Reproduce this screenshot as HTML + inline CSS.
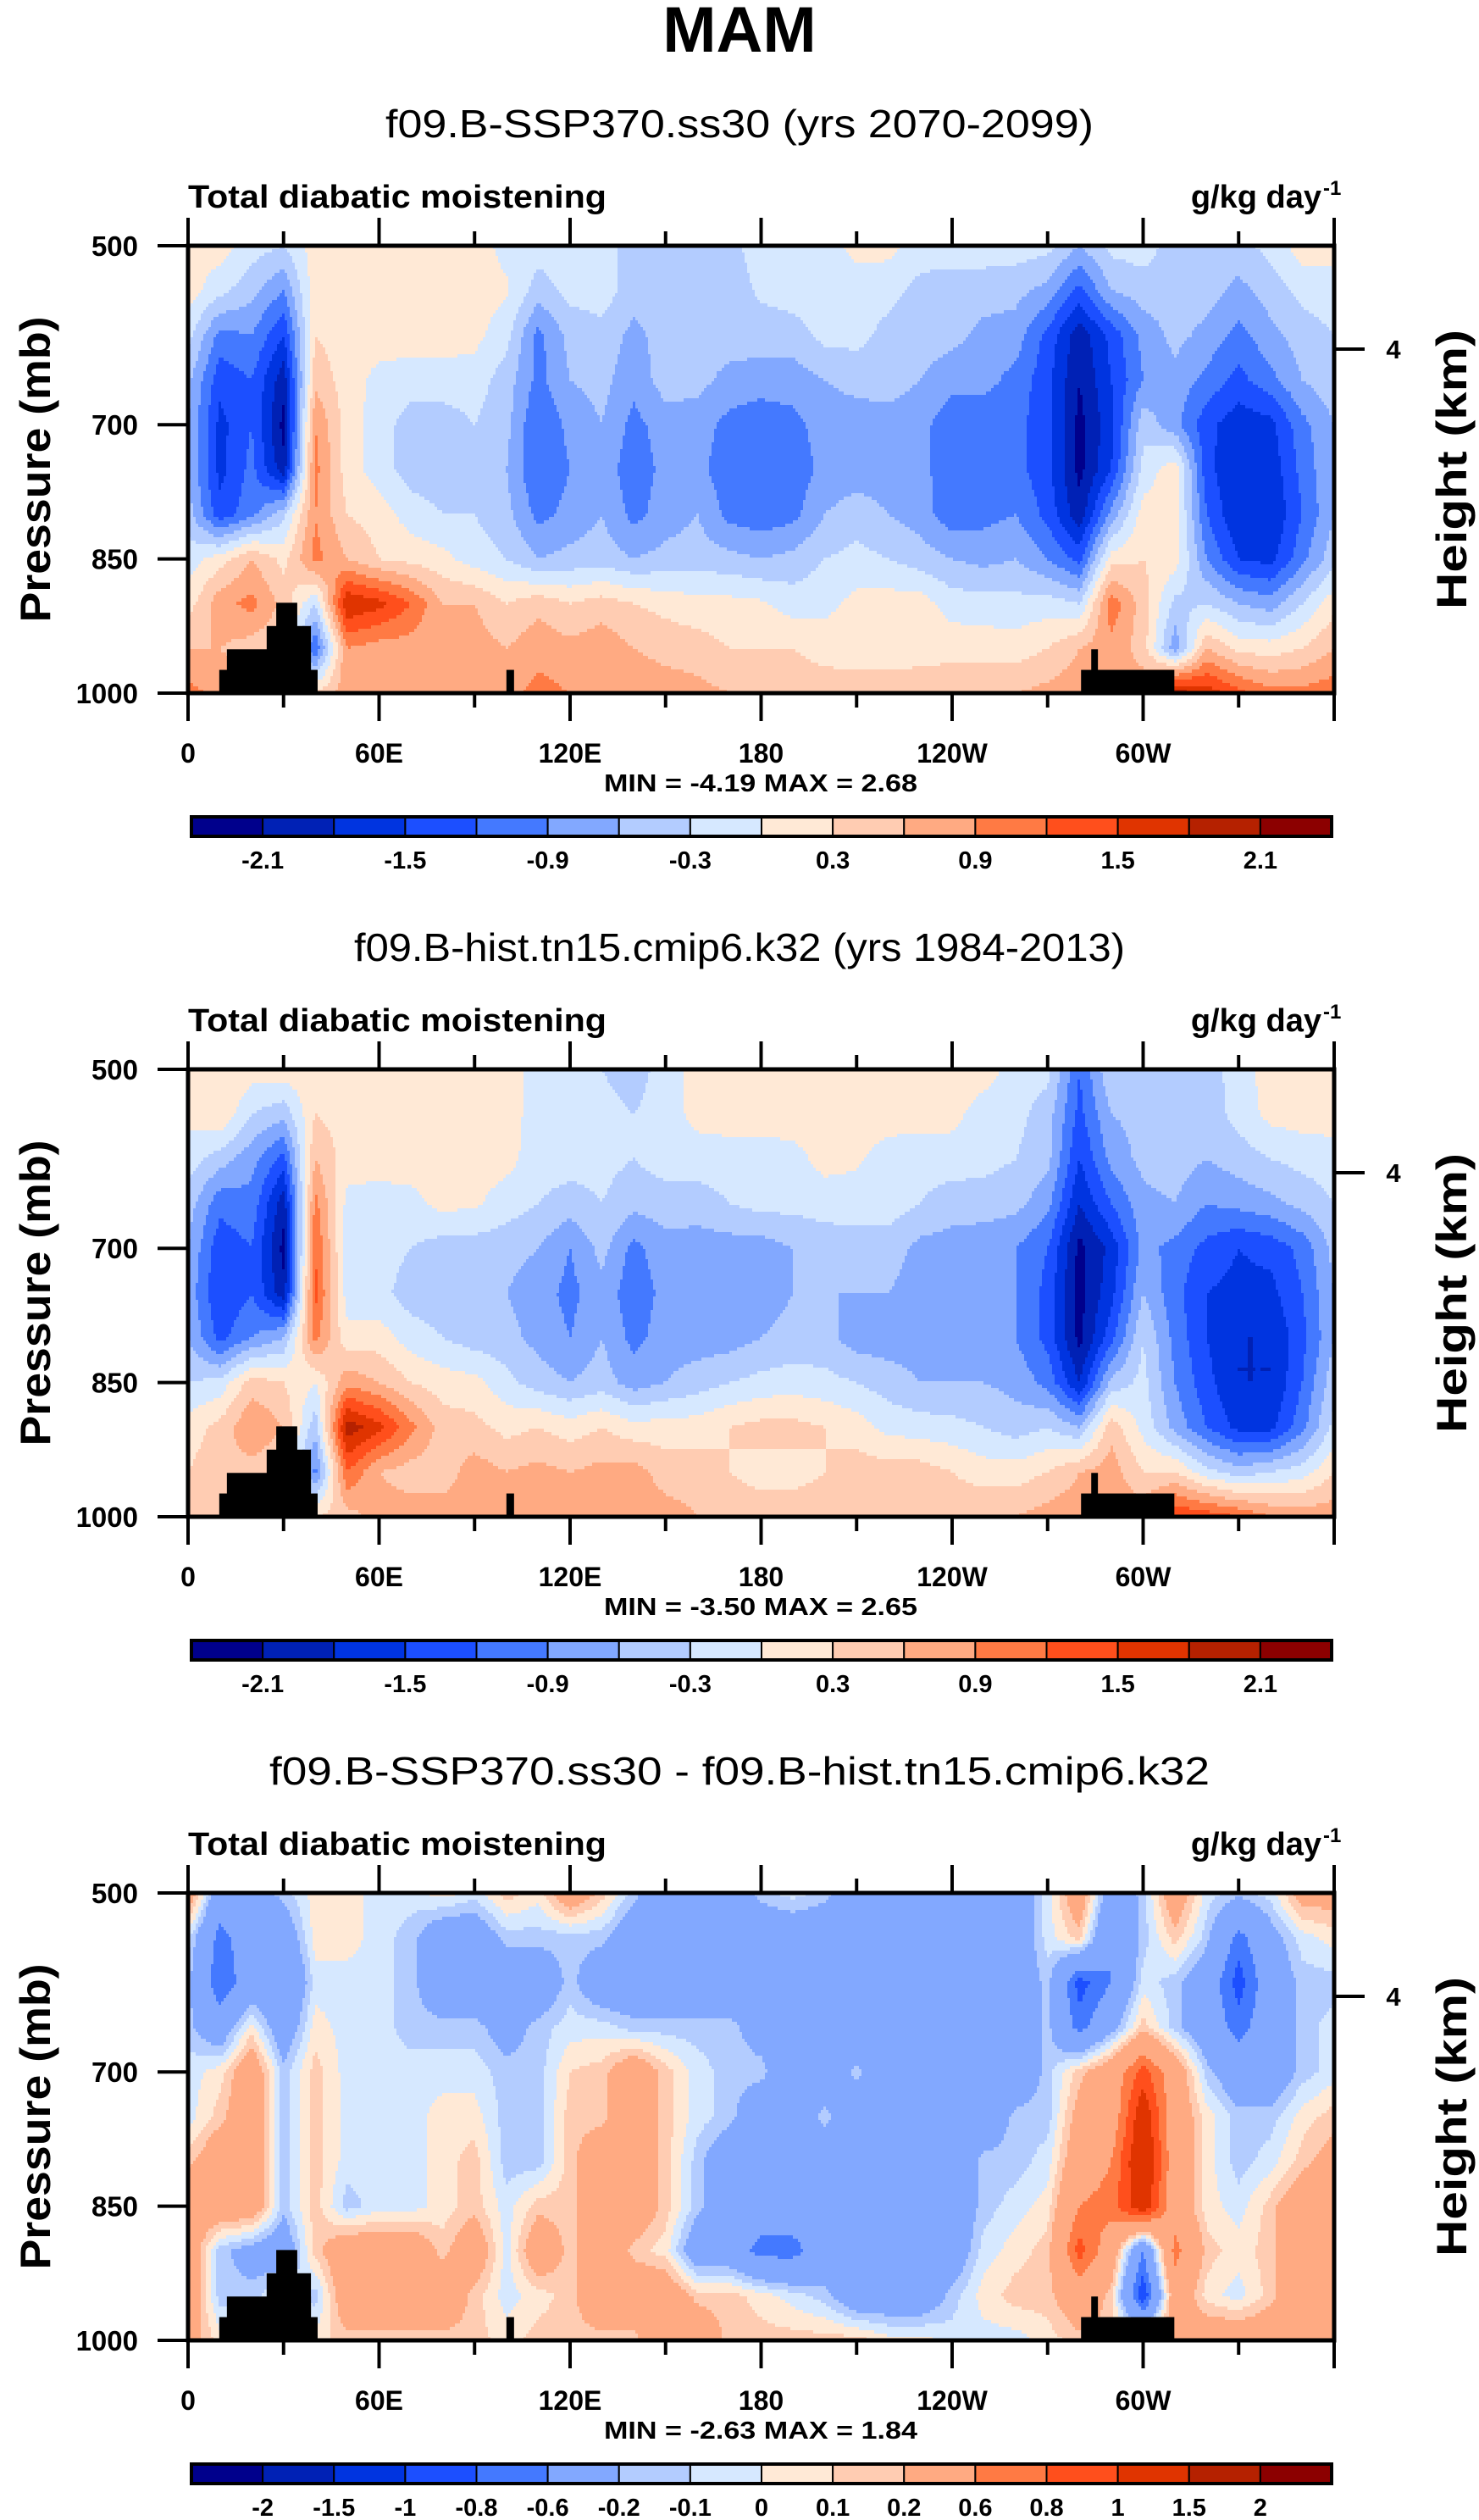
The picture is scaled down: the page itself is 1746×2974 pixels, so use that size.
<!DOCTYPE html>
<html><head><meta charset="utf-8">
<style>
html,body{margin:0;padding:0;background:#fff;}
svg{display:block;}
text{font-family:"Liberation Sans",Arial,sans-serif;fill:#000;}
.b{font-weight:bold;}
</style></head>
<body>
<svg id="chart" xmlns="http://www.w3.org/2000/svg" width="1746" height="2974" viewBox="0 0 1746 2974">
<rect x="0" y="0" width="1746" height="2974" fill="#fff"/>
<text class="b" x="873" y="61" font-size="76" text-anchor="middle">MAM</text>
<g id="panels"></g>
</svg>
<script>
// ---- data ----
const lons = [0,10,20,30,40,50,60,70,80,90,100,110,120,130,140,150,160,170,180,190,200,210,220,230,240,250,260,270,280,290,300,310,320,330,340,350,360];
const pLevels = [500,550,600,650,700,750,800,850,900,950,1000];

const sspRows = [
[.15,.15,-.15,-.3,.15,.15,.15,.15,.15,.15,-.1,-.15,-.15,-.15,-.45,-.45,-.45,-.4,-.15,-.15,-.15,.1,.1,-.15,-.15,-.15,-.15,-.2,-.6,-.2,-.15,-.45,-.45,-.4,-.2,.15,.15],
[.15,-.2,-.5,-.9,.2,.15,.15,.15,.15,.15,.05,-.45,-.2,-.15,-.45,-.45,-.45,-.45,-.25,-.15,-.15,-.15,-.2,-.4,-.45,-.45,-.5,-.7,-1.3,-.6,-.45,-.45,-.45,-.7,-.45,-.2,-.15],
[-.2,-1.0,-.9,-1.5,.3,.15,.15,.15,.15,.1,-.2,-1.0,-.5,-.4,-.7,-.45,-.45,-.45,-.45,-.45,-.2,-.2,-.4,-.45,-.5,-.7,-.75,-1.3,-2.0,-1.4,-.8,-.5,-.7,-1.0,-.7,-.45,-.3],
[-.5,-1.4,-1.2,-2.0,.5,.15,-.1,-.15,-.15,-.15,-.45,-1.0,-.6,-.5,-.8,-.45,-.5,-.7,-.75,-.75,-.6,-.5,-.45,-.6,-.8,-.8,-1.0,-1.4,-2.1,-1.5,-.9,-.7,-1.0,-1.3,-1.0,-.6,-.4],
[-.6,-1.6,-1.2,-2.2,.9,.15,-.15,-.45,-.45,-.3,-.5,-1.2,-.8,-.6,-1.0,-.75,-.75,-1.0,-1.1,-1.0,-.75,-.75,-.75,-.8,-1.1,-1.1,-1.1,-1.4,-2.2,-1.6,-.4,-.8,-1.4,-1.7,-1.6,-1.0,-.6],
[-.6,-1.6,-1.1,-2.0,1.0,.15,-.15,-.45,-.45,-.45,-.6,-1.2,-.9,-.7,-1.1,-.8,-.8,-1.1,-1.1,-1.1,-.8,-.75,-.75,-.8,-1.1,-1.1,-1.1,-1.4,-2.2,-1.5,-.2,.2,-1.4,-1.8,-1.7,-1.1,-.6],
[-.45,-1.4,-1.0,-.4,.9,.3,.15,-.15,-.3,-.3,-.5,-1.0,-.8,-.6,-1.0,-.75,-.6,-1.0,-1.1,-1.0,-.6,-.45,-.6,-.75,-1.1,-1.0,-.9,-1.3,-2.0,-.8,.15,.15,-1.2,-1.8,-1.8,-1.2,-.6],
[-.15,.15,.6,.2,1.0,.6,.3,.2,.1,-.15,-.3,-.6,-.5,-.45,-.6,-.5,-.45,-.5,-.6,-.5,-.3,-.2,-.3,-.45,-.6,-.7,-.6,-.9,-1.3,.15,.3,.15,-.9,-1.5,-1.6,-1.0,-.4],
[.15,.8,1.0,.5,-.3,1.8,1.6,1.2,.6,.6,.3,.5,.3,.45,.3,.2,.1,.1,.05,-.15,-.1,.1,.15,.15,-.15,-.15,-.2,-.15,-.3,1.1,.45,-.4,-.3,-.6,-.75,-.3,.2],
[.6,.6,.45,.3,-1.2,.9,.75,.75,.6,.75,.6,.8,.7,.8,.6,.5,.45,.3,.3,.3,.2,.15,.15,.2,.2,.15,.15,.3,.6,.8,.45,-.8,.6,.2,.15,.3,.6],
[1.0,.8,.7,.7,.3,.8,.8,.75,.75,.75,.8,1.0,.9,.8,.8,.75,.7,.6,.45,.45,.45,.45,.45,.45,.5,.6,.6,.7,.8,.8,.8,2.0,1.7,1.3,1.0,1.0,1.1]
];

const histRows = [
[.15,.3,.15,.2,.15,.15,.15,.15,.15,.15,.15,-.15,-.2,-.3,-.45,-.15,.1,.15,.15,.15,.15,.15,.15,.15,.15,.15,-.15,-.2,-1.2,-.3,-.4,-.3,-.45,-.15,.15,.15,.15],
[.1,.3,-.3,-.5,.3,.15,.15,.2,.3,.15,.15,-.15,-.15,-.2,-.3,-.15,.1,.15,.15,.15,.15,.15,.15,.15,.1,-.15,-.2,-.45,-1.3,-.6,-.5,-.3,-.45,-.2,.1,.15,.15],
[-.15,-.45,-.8,-1.3,.6,.15,.15,.15,.15,.15,.1,-.15,-.15,-.2,-.3,-.15,-.15,-.15,-.15,-.1,.1,.05,-.15,-.2,-.15,-.2,-.3,-.5,-1.5,-.8,-.5,-.45,-.6,-.45,-.3,-.2,-.15],
[-.45,-1.1,-1.0,-2.0,1.0,-.1,-.15,-.1,.1,.05,-.15,-.3,-.45,-.3,-.5,-.45,-.45,-.3,-.2,-.2,-.15,-.15,-.15,-.3,-.45,-.45,-.5,-.8,-1.8,-1.2,-.7,-.6,-.9,-.8,-.7,-.5,-.3],
[-.6,-1.4,-1.2,-2.2,1.2,-.15,-.15,-.3,-.45,-.45,-.5,-.6,-.9,-.5,-1.0,-.7,-.75,-.75,-.75,-.6,-.5,-.45,-.45,-.7,-.75,-.8,-.9,-1.2,-2.2,-1.7,-.8,-1.0,-1.3,-1.5,-1.4,-1.1,-.5],
[-.7,-1.5,-1.2,-2.0,1.3,-.15,-.2,-.45,-.45,-.5,-.6,-.75,-1.0,-.7,-1.1,-.8,-.9,-.9,-.75,-.6,-.6,-.6,-.6,-.75,-.75,-.8,-.9,-1.3,-2.2,-1.6,-.6,-1.1,-1.5,-1.6,-1.6,-1.2,-.6],
[-.6,-1.3,-.9,-.6,1.0,.1,.15,-.15,-.3,-.45,-.5,-.7,-.9,-.6,-1.0,-.75,-.75,-.75,-.6,-.5,-.5,-.75,-.75,-.75,-.75,-.75,-.9,-1.3,-2.2,-1.3,-.3,-1.0,-1.5,-1.8,-1.8,-1.3,-.6],
[-.3,-.2,.45,.3,0,.8,.6,.3,.15,.1,-.2,-.45,-.6,-.45,-.75,-.6,-.45,-.3,-.2,-.15,-.2,-.3,-.45,-.6,-.6,-.6,-.7,-1.0,-1.8,-.5,-.2,-.9,-1.4,-1.8,-1.8,-1.2,-.4],
[.15,.4,.9,.6,-.5,2.0,1.6,1.0,.45,.4,.2,.3,.15,.3,.1,.15,.15,.3,.4,.4,.3,.15,-.1,-.15,-.2,-.3,-.45,-.3,-.6,.5,-.1,-.7,-1.2,-1.6,-1.6,-1.0,-.2],
[.3,.5,.45,.3,-1.0,1.2,.6,.45,.45,.75,.6,.7,.6,.7,.75,.45,.45,.3,.2,.2,.3,.45,.45,.45,.3,.15,.15,.3,.6,.75,.3,.3,-.2,-.45,-.3,-.15,.3],
[.6,.6,.6,.6,.3,.45,.75,.75,.75,.75,.8,.9,.9,.8,.8,.75,.6,.45,.45,.45,.45,.45,.45,.45,.5,.6,.6,.75,.8,.8,.8,1.5,1.4,1.2,.9,.8,.8]
];

const diffRows = [
[.4,-.4,-.3,-.15,.05,.05,-.05,-.05,.05,-.05,.15,.05,.4,.15,-.15,-.4,-.4,-.4,-.15,-.05,-.15,-.4,-.4,-.4,-.4,-.4,-.4,-.05,.4,-.4,-.15,.4,-.05,-.15,-.05,.3,.3],
[-.05,-.7,-.4,-.4,.05,.05,-.05,-.15,-.4,-.4,-.15,-.15,-.15,-.15,-.4,-.4,-.4,-.4,-.4,-.4,-.4,-.4,-.4,-.4,-.4,-.4,-.4,-.05,.15,-.6,-.15,.15,-.15,-.7,-.3,-.05,.05],
[-.15,-.8,-.4,-.6,-.05,-.05,-.05,-.15,-.4,-.4,-.4,-.4,-.15,-.4,-.4,-.4,-.4,-.4,-.4,-.4,-.4,-.4,-.4,-.4,-.4,-.4,-.4,-.15,-.9,-.6,-.05,-.15,-.4,-.9,-.4,-.15,-.15],
[-.15,-.4,.05,-.4,.05,-.05,-.05,-.15,-.15,-.15,-.3,-.15,-.05,-.05,-.15,-.15,-.15,-.15,-.3,-.4,-.4,-.4,-.4,-.4,-.4,-.4,-.4,-.15,-.7,-.3,.15,-.15,-.4,-.7,-.4,-.15,-.05],
[-.05,.05,.4,-.15,.15,-.05,-.05,-.05,-.05,-.05,-.15,-.15,.1,.15,.4,.15,-.05,-.15,-.15,-.4,-.4,-.15,-.4,-.4,-.4,-.4,-.4,-.15,.15,.4,.9,.4,-.15,-.4,-.4,-.15,-.05],
[-.05,.15,.4,-.15,.15,-.05,-.05,-.05,.05,.05,-.15,-.15,.15,.15,.4,.15,-.05,-.15,-.4,-.4,-.15,-.4,-.4,-.4,-.4,-.4,-.15,-.15,.3,.4,1.2,.4,.05,-.15,-.15,.05,.15],
[.15,.4,.4,-.15,.15,-.05,-.05,-.05,.05,.15,-.15,-.15,.15,.4,.4,.15,-.15,-.4,-.4,-.4,-.4,-.4,-.4,-.4,-.4,-.15,-.15,-.05,.4,.6,1.3,.4,.05,-.15,-.05,.15,.3],
[.4,.4,.4,-.15,.15,-.15,-.05,-.05,.05,.15,-.05,.15,.15,.4,.4,.15,-.15,-.4,-.4,-.4,-.4,-.4,-.4,-.4,-.4,-.15,-.05,.05,.6,.7,1.2,.4,.05,-.05,.15,.4,.4],
[.4,-.15,-.3,-.4,.15,.4,.4,.4,.15,.4,-.05,.4,.15,.4,.15,.05,-.4,-.4,-.7,-.7,-.4,-.4,-.4,-.4,-.4,-.05,.05,.15,.9,.4,-.6,.7,.15,.05,.15,.4,.4],
[.4,-.15,-.15,.05,-.15,.4,.4,.4,.4,.15,-.05,.05,.15,.4,.4,.4,.15,.15,.05,-.05,-.15,-.4,-.4,-.4,-.15,.05,.15,.15,.4,.15,-1.0,.4,.05,-.05,.15,.4,.4],
[.3,.05,.05,.05,.05,.15,.15,.15,.15,.15,.05,.15,.15,.15,.15,.4,.4,.15,.15,.15,.15,.15,.05,.05,-.05,-.05,-.05,.05,.15,.15,.15,.4,.4,.4,.4,.4,.4]
];

const levelsAbs = [-2.1,-1.8,-1.5,-1.2,-0.9,-0.6,-0.3,0,0.3,0.6,0.9,1.2,1.5,1.8,2.1];
const levelsDiff = [-2,-1.5,-1,-0.8,-0.6,-0.2,-0.1,0,0.1,0.2,0.6,0.8,1,1.5,2];
const absLabels = ["-2.1","-1.5","-0.9","-0.3","0.3","0.9","1.5","2.1"];
const absLabelIdx = [0,2,4,6,8,10,12,14];
const diffLabels = ["-2","-1.5","-1","-0.8","-0.6","-0.2","-0.1","0","0.1","0.2","0.6","0.8","1","1.5","2"];
const diffLabelIdx = [0,1,2,3,4,5,6,7,8,9,10,11,12,13,14];
const palette = ["#00008C","#0021B5","#0034E0","#1C4FFF","#4479FF","#82A8FF","#B3CCFF","#D6E8FF","#FFE9D6","#FFCCB2","#FFAA82","#FF7A44","#FF4F1C","#E03400","#B52100","#8C0000"];

const topoLon0 = [9.8,12.2,24.7,27.7,100,280.5,283.7];
const topoLon1 = [40.7,38.6,38.6,34.3,102.4,309.8,285.8];
const topoP = [974,951,925,899,974,974,951];

const pTicks = [500,700,850,1000];
const lonTicks = [0,30,60,90,120,150,180,210,240,270,300,330,360];
const lonLabels = ["0","","60E","","120E","","180","","120W","","60W","",""];

const titles = ["f09.B-SSP370.ss30 (yrs 2070-2099)","f09.B-hist.tn15.cmip6.k32 (yrs 1984-2013)","f09.B-SSP370.ss30 - f09.B-hist.tn15.cmip6.k32"];
const titleWidths = [836,910,1110];
const minMax = ["MIN =  -4.19  MAX =   2.68","MIN =  -3.50  MAX =   2.65","MIN =  -2.63  MAX =   1.84"];
const panelNames = ["ssp370","historical","difference"];

// ---- layout ----
const NS = "http://www.w3.org/2000/svg";
const PL = 222, PR = 1575, PW = PR - PL, PH = 528, DY = 972, TOP0 = 290;
function mk(tag, attrs, parent){ const e = document.createElementNS(NS, tag); for (const k in attrs) e.setAttribute(k, attrs[k]); parent.appendChild(e); return e; }
function xOf(lon){ return PL + lon / 360 * PW; }
function yOf(p, top){ return top + (p - 500) / 500 * PH; }
function sample(rows, lon, p){
  let fi = lon / 10; let i = Math.min(Math.floor(fi), lons.length - 2); let fx = fi - i;
  let fj = (p - 500) / 50; let j = Math.min(Math.floor(fj), pLevels.length - 2); let fy = fj - j;
  const a = rows[j][i], b = rows[j][i+1], c = rows[j+1][i], d = rows[j+1][i+1];
  return (a*(1-fx)+b*fx)*(1-fy) + (c*(1-fx)+d*fx)*fy;
}
function cls(v, lv){ let k = 0; while (k < lv.length && v >= lv[k]) k++; return k; }

const root = document.getElementById('panels');
const allRows = [sspRows, histRows, diffRows];
for (let k = 0; k < 3; k++) {
  const top = TOP0 + k * DY, off = k * DY;
  const lv = k < 2 ? levelsAbs : levelsDiff;
  const g = mk('g', {}, root);
  
  

  const t = mk('text', {x: 873, y: 162 + off, 'font-size': 46, 'text-anchor': 'middle', textLength: titleWidths[k], lengthAdjust: 'spacingAndGlyphs'}, g);
  t.textContent = titles[k];
  
  
  const lt = mk('text', {x: 222, y: 245 + off, 'font-size': 38, 'class': 'b', textLength: 494, lengthAdjust: 'spacingAndGlyphs'}, g);
  lt.textContent = 'Total diabatic moistening';
  
  
  const ut = mk('text', {x: 1560, y: 245 + off, 'font-size': 38, 'class': 'b', 'text-anchor': 'end'}, g);
  ut.textContent = 'g/kg day';
  
  
  const us = mk('text', {x: 1562, y: 230 + off, 'font-size': 24, 'class': 'b'}, g);
  us.textContent = '-1';
  
  

  // field
  const fg = mk('g', {'shape-rendering': 'crispEdges'}, g);
  
  
  const rowH = 4, colW = 3, nR = PH / rowH, nC = Math.ceil(PW / colW);
  for (let r = 0; r < nR; r++) {
    const p = 500 + (r + 0.5) * rowH / PH * 500;
    let start = 0, cur = -1;
    for (let c = 0; c <= nC; c++) {
      let ci = -2;
      if (c < nC) { const lon = Math.min(360, (c + 0.5) * colW / PW * 360); ci = cls(sample(allRows[k], lon, p), lv); }
      if (ci !== cur) {
        if (cur >= 0) {
          const x0 = PL + start * colW, x1 = Math.min(PR, PL + c * colW);
          const rc = mk('rect', {x: x0, y: top + r * rowH, width: x1 - x0, height: rowH + 0.5, fill: palette[cur]}, fg);
          
          
        }
        cur = ci; start = c;
      }
    }
  }
  // topography
  for (let i = 0; i < topoP.length; i++) {
    const y0 = yOf(topoP[i], top);
    const tr = mk('rect', {x: xOf(topoLon0[i]), y: y0, width: xOf(topoLon1[i]) - xOf(topoLon0[i]), height: top + PH - y0, fill: '#000'}, g);
    
    
  }
  // frame
  const fr = mk('rect', {x: PL, y: top, width: PW, height: PH, fill: 'none', stroke: '#000', 'stroke-width': 5}, g);
  
  
  // pressure ticks
  for (let i = 0; i < pTicks.length; i++) {
    const y = yOf(pTicks[i], top);
    const tk = mk('line', {x1: 186, x2: PL, y1: y, y2: y, stroke: '#000', 'stroke-width': 4}, g);
    
    
    const tl = mk('text', {x: 163, y: y + 12, 'font-size': 33, 'class': 'b', 'text-anchor': 'end'}, g);
    tl.textContent = String(pTicks[i]);
    
    
  }
  // lon ticks
  for (let i = 0; i < lonTicks.length; i++) {
    const x = xOf(lonTicks[i]); const major = (lonTicks[i] % 60 === 0);
    const L = major ? 33 : 17;
    const b = mk('line', {x1: x, x2: x, y1: top + PH, y2: top + PH + L, stroke: '#000', 'stroke-width': 4}, g);
    
    
    const tt = mk('line', {x1: x, x2: x, y1: top, y2: top - L, stroke: '#000', 'stroke-width': 4}, g);
    
    
    if (lonLabels[i]) {
      const xl = mk('text', {x: x, y: 900 + off, 'font-size': 32, 'class': 'b', 'text-anchor': 'middle'}, g);
      xl.textContent = lonLabels[i];
      
      
    }
  }
  // height axis
  const hy = 412 + off;
  const ht = mk('line', {x1: PR, x2: 1611, y1: hy, y2: hy, stroke: '#000', 'stroke-width': 4}, g);
  
  
  const hl = mk('text', {x: 1645, y: hy + 11, 'font-size': 31, 'class': 'b', 'text-anchor': 'middle'}, g);
  hl.textContent = '4';
  
  
  const ya = mk('text', {x: 0, y: 0, 'font-size': 50, 'class': 'b', 'text-anchor': 'middle', transform: 'translate(59,' + (554 + off) + ') rotate(-90)', textLength: 361, lengthAdjust: 'spacingAndGlyphs'}, g);
  ya.textContent = 'Pressure (mb)';
  
  
  const ha = mk('text', {x: 0, y: 0, 'font-size': 50, 'class': 'b', 'text-anchor': 'middle', transform: 'translate(1731,' + (554 + off) + ') rotate(-90)', textLength: 330, lengthAdjust: 'spacingAndGlyphs'}, g);
  ha.textContent = 'Height (km)';
  
  
  // min max
  const mm = mk('text', {x: 898, y: 934 + off, 'font-size': 29, 'class': 'b', 'text-anchor': 'middle', textLength: 370, lengthAdjust: 'spacingAndGlyphs', 'xml:space': 'preserve'}, g);
  mm.textContent = minMax[k];
  
  
  // colorbar
  const cbL = 226, cbR = 1572, cbT = 964 + off, cbH = 23, bw = (cbR - cbL) / 16;
  const cb = mk('g', {}, g);
  
  
  for (let i = 0; i < 16; i++) {
    const bx = mk('rect', {x: cbL + i * bw, y: cbT, width: bw, height: cbH, fill: palette[i], stroke: '#000', 'stroke-width': 2}, cb);
    
    
  }
  const cbf = mk('rect', {x: cbL, y: cbT, width: cbR - cbL, height: cbH, fill: 'none', stroke: '#000', 'stroke-width': 4}, cb);
  
  
  const labs = k < 2 ? absLabels : diffLabels, idx = k < 2 ? absLabelIdx : diffLabelIdx;
  for (let i = 0; i < labs.length; i++) {
    const cl = mk('text', {x: cbL + (idx[i] + 1) * bw, y: 1025 + off, 'font-size': 29, 'class': 'b', 'text-anchor': 'middle'}, cb);
    cl.textContent = labs[i];
    
    
  }
}
</script>
</body></html>
